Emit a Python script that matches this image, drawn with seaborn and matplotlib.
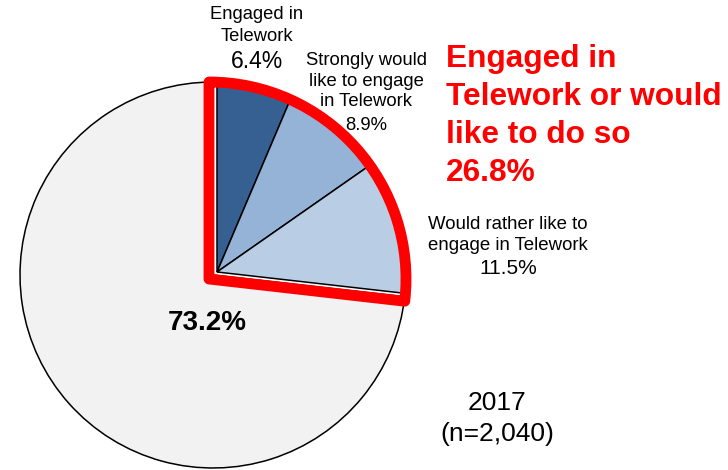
import matplotlib
matplotlib.use("Agg")
import matplotlib.pyplot as plt
from matplotlib.patches import Wedge
import seaborn as sns

# Telework survey, 2017 (n=2,040)
categories = [
    "Engaged in Telework",
    "Strongly would like to engage in Telework",
    "Would rather like to engage in Telework",
    "Other",
]
shares = [6.4, 8.9, 11.5, 73.2]
colors = ["#376092", "#95B3D7", "#B9CDE5", "#F2F2F2"]
group_share = 26.8
year_label = "2017"
sample_label = "(n=2,040)"

sns.set_theme(style="white")
plt.rcParams["font.family"] = ["Liberation Sans", "DejaVu Sans"]

W, H = 728, 470
fig = plt.figure(figsize=(W / 100, H / 100), dpi=100)
ax = fig.add_axes([0, 0, 1, 1])


def yy(y_img):
    return H - y_img


wedges, _ = ax.pie(
    shares,
    colors=colors,
    startangle=90,
    counterclock=False,
    center=(213, yy(275)),
    radius=193,
    wedgeprops=dict(edgecolor="black", linewidth=1.1),
)

# the telework slices sit slightly inside the full circle
for w in wedges[:3]:
    w.set_center((217, yy(272)))
    w.set_radius(186)

# red outline around the combined telework group
group_total = sum(shares[:3])
outline = Wedge(
    (209, yy(279)), 197,
    90 - 360 * group_total / 100, 90,
    fill=False, edgecolor="#FF0000", linewidth=7.8, joinstyle="round",
    zorder=5,
)
ax.add_patch(outline)

ax.set_xlim(0, W)
ax.set_ylim(0, H)
ax.set_aspect("equal")
ax.axis("off")

txt = dict(ha="center", va="center", color="black")

ax.text(257, yy(25.5), "Engaged in\nTelework", fontsize=13.2, linespacing=1.33, **txt)
ax.text(257, yy(62), f"{shares[0]}%", fontsize=16.5, **txt)

ax.text(366, yy(81), "Strongly would\nlike to engage\nin Telework", fontsize=13.3,
        linespacing=1.28, **txt)
ax.text(366, yy(125), f"{shares[1]}%", fontsize=13.3, **txt)

ax.text(508, yy(235), "Would rather like to\nengage in Telework", fontsize=13.4,
        linespacing=1.28, **txt)
ax.text(508, yy(269), f"{shares[2]}%", fontsize=15, **txt)

ax.text(207, yy(323), f"{shares[3]}%", fontsize=20, fontweight="bold", **txt)

ax.text(446, yy(116),
        f"Engaged in\nTelework or would\nlike to do so\n{group_share}%",
        fontsize=22.8, fontweight="bold", color="#FF0000", ha="left", va="center",
        linespacing=1.35)

ax.text(497, yy(418.5), f"{year_label}\n{sample_label}", fontsize=19,
        linespacing=1.33, **txt)

fig.savefig("out.png", dpi=100, facecolor="white")
